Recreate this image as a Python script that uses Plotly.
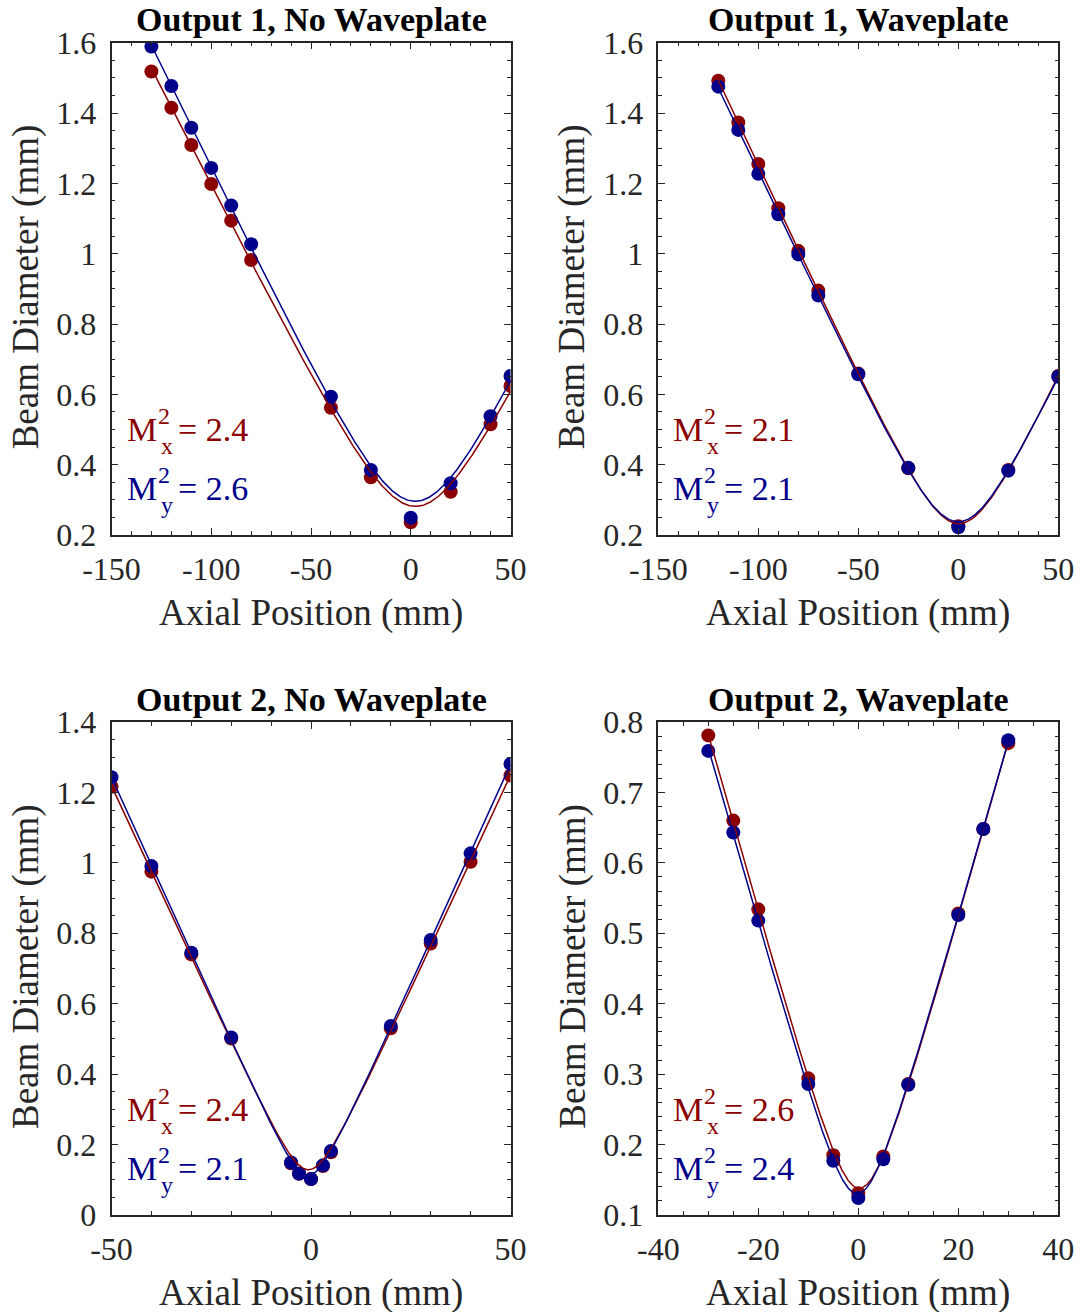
import numpy as np
import plotly.graph_objects as go

# ---- measured beam diameters (mm) versus axial position (mm) ----
z_o1_nowp = [-130, -120, -110, -100, -90, -80, -40, -20, 0, 20, 40, 50]
dx_o1_nowp = [1.518, 1.415, 1.309, 1.198, 1.094, 0.982, 0.562, 0.364, 0.236, 0.323, 0.515, 0.624]
dy_o1_nowp = [1.589, 1.477, 1.358, 1.244, 1.137, 1.027, 0.593, 0.385, 0.249, 0.347, 0.538, 0.652]

z_o1_wp = [-120, -110, -100, -90, -80, -70, -50, -25, 0, 25, 50]
dx_o1_wp = [1.492, 1.373, 1.255, 1.129, 1.008, 0.895, 0.659, 0.390, 0.225, 0.385, 0.652]
dy_o1_wp = [1.475, 1.352, 1.227, 1.112, 0.998, 0.881, 0.657, 0.391, 0.222, 0.383, 0.650]

z_o2_nowp = [-50, -40, -30, -20, -5, -3, 0, 3, 5, 20, 30, 40, 50]
dx_o2_nowp = [1.216, 0.975, 0.740, 0.501, 0.147, 0.117, 0.102, 0.139, 0.178, 0.530, 0.771, 1.003, 1.248]
dy_o2_nowp = [1.243, 0.991, 0.745, 0.504, 0.149, 0.118, 0.102, 0.141, 0.182, 0.537, 0.781, 1.027, 1.281]

z_o2_wp = [-30, -25, -20, -10, -5, 0, 5, 10, 20, 25, 30]
dx_o2_wp = [0.781, 0.660, 0.534, 0.294, 0.185, 0.131, 0.183, 0.286, 0.528, 0.648, 0.770]
dy_o2_wp = [0.759, 0.643, 0.518, 0.286, 0.177, 0.124, 0.179, 0.285, 0.526, 0.648, 0.774]

# fitted beam quality factors
m2x = ["2.4", "2.1", "2.4", "2.6"]
m2y = ["2.6", "2.1", "2.1", "2.4"]

titles = ["Output 1, No Waveplate", "Output 1, Waveplate",
          "Output 2, No Waveplate", "Output 2, Waveplate"]

# axis ranges and ticks per panel
x_ranges = [[-150, 50], [-150, 50], [-50, 50], [-40, 40]]
x_ticks = [[-150, -100, -50, 0, 50], [-150, -100, -50, 0, 50], [-50, 0, 50], [-40, -20, 0, 20, 40]]
x_minor = [10, 10, 10, 5]
y_ranges = [[0.2, 1.6], [0.2, 1.6], [0.0, 1.4], [0.1, 0.8]]
y_ticks = [[0.2, 0.4, 0.6, 0.8, 1.0, 1.2, 1.4, 1.6],
           [0.2, 0.4, 0.6, 0.8, 1.0, 1.2, 1.4, 1.6],
           [0.0, 0.2, 0.4, 0.6, 0.8, 1.0, 1.2, 1.4],
           [0.1, 0.2, 0.3, 0.4, 0.5, 0.6, 0.7, 0.8]]
y_minor = [0.05, 0.05, 0.05, 0.02]

panels = [
    (z_o1_nowp, dx_o1_nowp, dy_o1_nowp),
    (z_o1_wp, dx_o1_wp, dy_o1_wp),
    (z_o2_nowp, dx_o2_nowp, dy_o2_nowp),
    (z_o2_wp, dx_o2_wp, dy_o2_wp),
]

RED = "#8b0000"
BLUE = "#00008b"
AXC = "#262626"
FONT = "Liberation Serif"
W, H = 1084, 1312

# axes boxes in pixels: (left, right, top, bottom)
boxes = [(111.5, 510.5, 42.7, 535.0), (658.3, 1058.3, 42.7, 535.0),
         (111.5, 510.5, 722.0, 1215.0), (658.3, 1058.3, 722.0, 1215.0)]


def caustic_fit(z, d):
    """Least-squares fit of D^2 = a + b z + c z^2 (second-moment beam caustic)."""
    z = np.asarray(z, float)
    d = np.asarray(d, float)
    coef = np.polyfit(z, d ** 2, 2)
    zz = np.linspace(z.min(), z.max(), 400)
    return zz, np.sqrt(np.clip(np.polyval(coef, zz), 0, None))


fig = go.Figure()
annotations = []

for i, (z, dx, dy) in enumerate(panels):
    n = "" if i == 0 else str(i + 1)
    xa, ya = "x" + n, "y" + n
    l, r, t, b = boxes[i]

    for d, c in ((dx, RED), (dy, BLUE)):
        fig.add_trace(go.Scatter(x=z, y=d, mode="markers", xaxis=xa, yaxis=ya,
                                 marker=dict(color=c, size=14, line=dict(width=0)),
                                 showlegend=False, hoverinfo="skip"))
    for d, c in ((dx, RED), (dy, BLUE)):
        zz, dd = caustic_fit(z, d)
        fig.add_trace(go.Scatter(x=zz, y=dd, mode="lines", xaxis=xa, yaxis=ya,
                                 line=dict(color=c, width=1.5),
                                 showlegend=False, hoverinfo="skip"))

    common = dict(showline=True, linecolor=AXC, linewidth=1.5, mirror="allticks",
                  ticks="inside", ticklen=7, tickwidth=1, tickcolor=AXC,
                  showgrid=False, zeroline=False, automargin=False,
                  tickfont=dict(family=FONT, size=32, color=AXC))
    fig.layout["xaxis" + n] = dict(
        common, domain=[l / W, r / W], anchor=ya, range=x_ranges[i],
        tickmode="array", tickvals=x_ticks[i],
        ticktext=["{:g}".format(v) for v in x_ticks[i]],
        minor=dict(dtick=x_minor[i], tick0=0, ticks="inside", ticklen=4,
                   tickcolor=AXC, tickwidth=1),
        ticklabelstandoff=5)
    fig.layout["yaxis" + n] = dict(
        common, domain=[1 - b / H, 1 - t / H], anchor=xa, range=y_ranges[i],
        tickmode="array", tickvals=y_ticks[i],
        ticktext=["{:g}".format(v) for v in y_ticks[i]],
        minor=dict(dtick=y_minor[i], tick0=0, ticks="inside", ticklen=4,
                   tickcolor=AXC, tickwidth=1),
        ticklabelstandoff=7)

    xd, yd = xa + " domain", ya + " domain"
    # panel title
    annotations.append(dict(text="<b>" + titles[i] + "</b>", xref=xd, yref=yd,
                            x=0.5, y=1, yshift=23, xanchor="center", yanchor="middle",
                            showarrow=False, font=dict(family=FONT, size=34, color="black")))
    # axis titles
    annotations.append(dict(text="Axial Position (mm)", xref=xd, yref=yd,
                            x=0.5, y=0, yshift=-78, xanchor="center", yanchor="middle",
                            showarrow=False, font=dict(family=FONT, size=37, color=AXC)))
    annotations.append(dict(text="Beam Diameter (mm)", xref=xd, yref=yd,
                            x=0, y=0.5, xshift=-86, yshift=2, xanchor="center",
                            yanchor="middle", textangle=-90, showarrow=False,
                            font=dict(family=FONT, size=37, color=AXC)))
    # M^2 labels: base letter, stacked superscript/subscript, value
    for val, sub, c, base in ((m2x[i], "x", RED, 106), (m2y[i], "y", BLUE, 47)):
        annotations.append(dict(text="M", xref=xd, yref=yd, x=0, y=0, xshift=13,
                                yshift=base, xanchor="left", yanchor="middle",
                                showarrow=False, font=dict(family=FONT, size=34, color=c)))
        annotations.append(dict(text="2", xref=xd, yref=yd, x=0, y=0, xshift=44,
                                yshift=base + 13, xanchor="left", yanchor="middle",
                                showarrow=False, font=dict(family=FONT, size=24, color=c)))
        annotations.append(dict(text=sub, xref=xd, yref=yd, x=0, y=0, xshift=47,
                                yshift=base - 17, xanchor="left", yanchor="middle",
                                showarrow=False, font=dict(family=FONT, size=24, color=c)))
        annotations.append(dict(text="= " + val, xref=xd, yref=yd, x=0, y=0, xshift=64,
                                yshift=base, xanchor="left", yanchor="middle",
                                showarrow=False, font=dict(family=FONT, size=34, color=c)))

fig.update_layout(width=W, height=H,
                  margin=dict(l=0, r=0, t=0, b=0, autoexpand=False),
                  paper_bgcolor="white", plot_bgcolor="white",
                  annotations=annotations, showlegend=False)

fig.write_html("out.html")
